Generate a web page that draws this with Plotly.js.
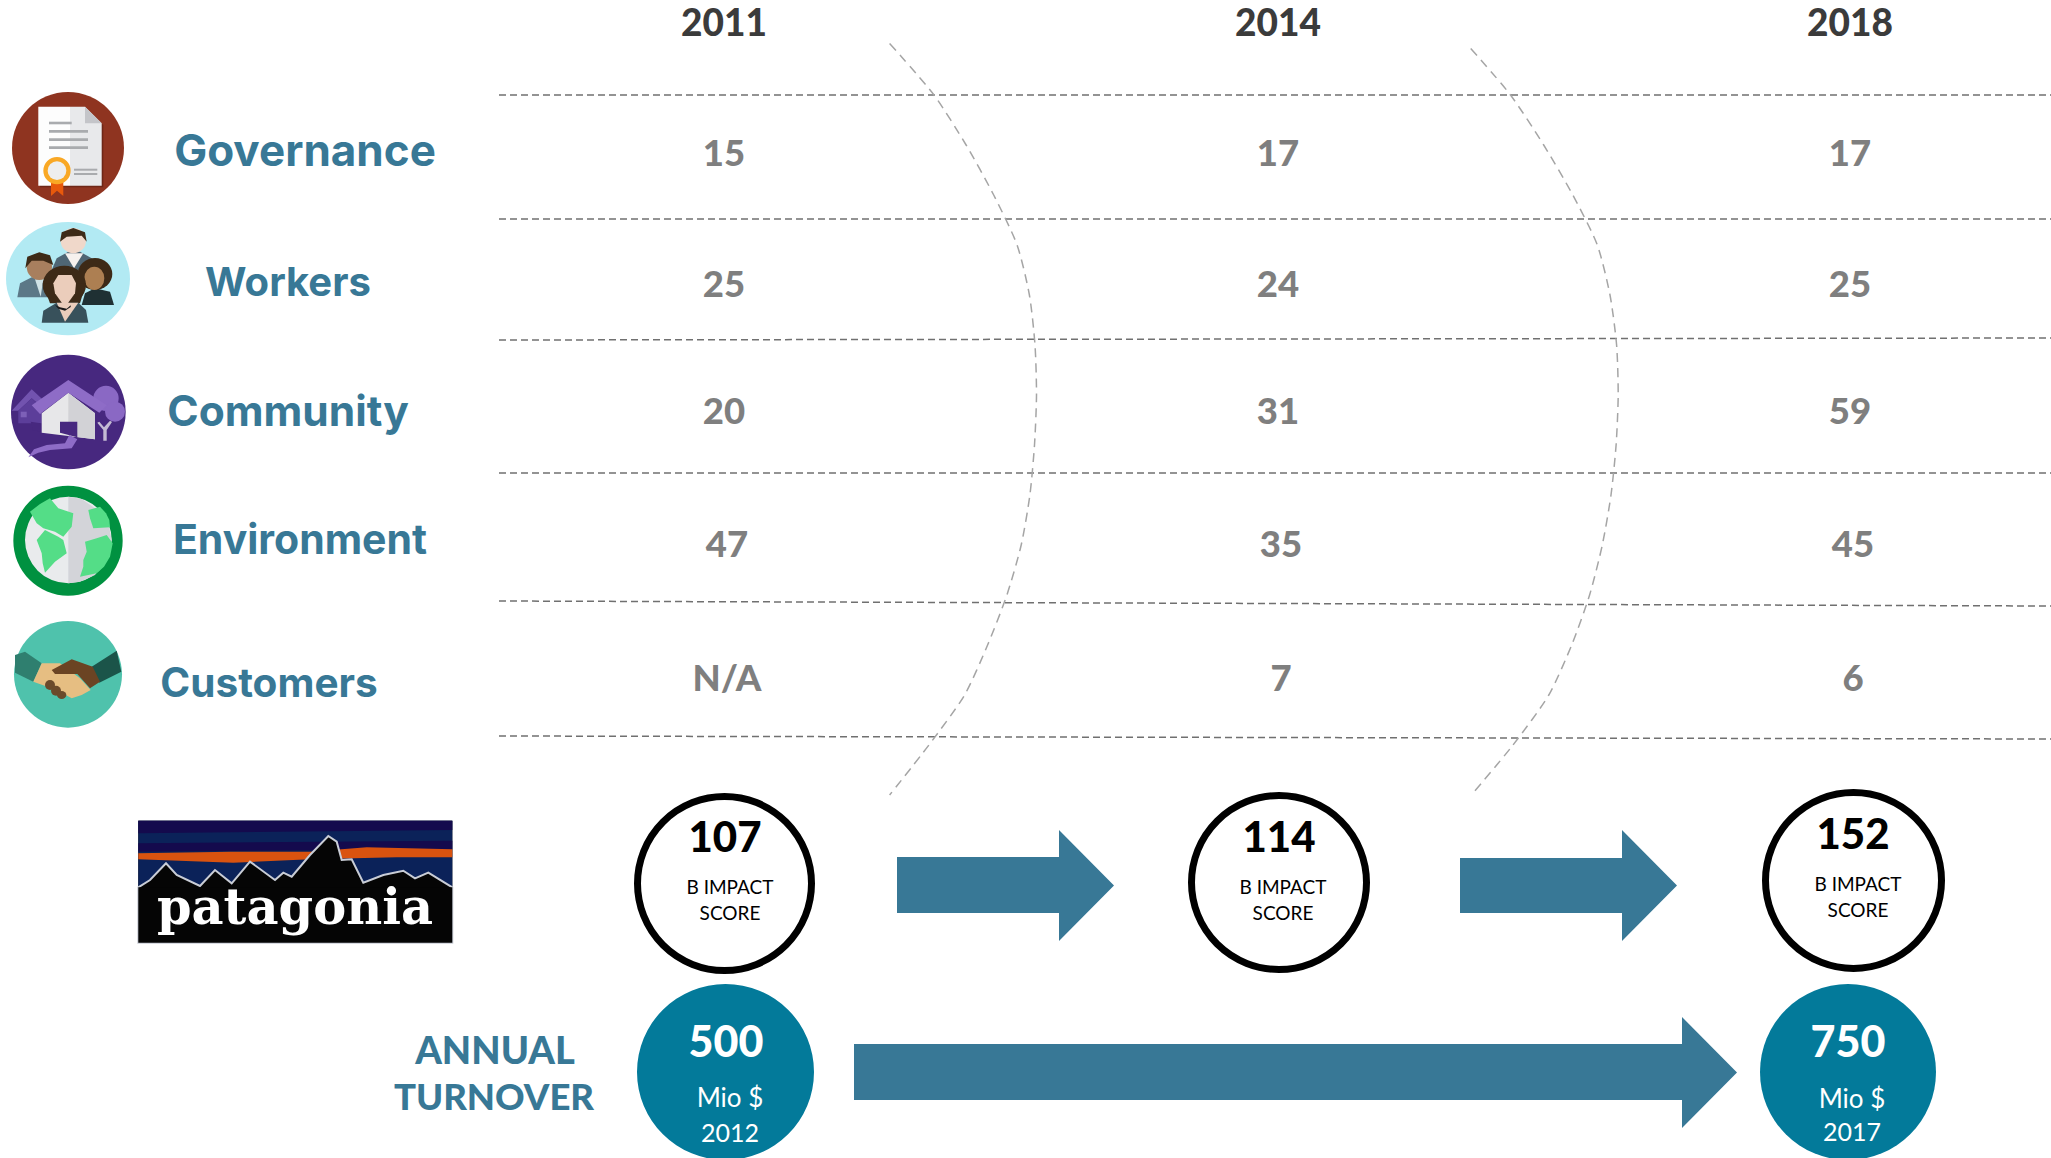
<!DOCTYPE html>
<html><head><meta charset="utf-8">
<script src="https://cdn.plot.ly/plotly-3.0.1.min.js"></script>
<style>html,body{margin:0;padding:0;background:#fff}#c{width:2051px;height:1158px}</style></head>
<body><div id="c"></div>
<script>
// ---------- data ----------
const years = ['2011','2014','2018'];
const categories = ['Governance','Workers','Community','Environment','Customers'];
const scores2011 = ['15','25','20','47','N/A'];
const scores2014 = ['17','24','31','35','7'];
const scores2018 = ['17','25','59','45','6'];
const impactScores = ['107','114','152'];
const impactLabel = ['B IMPACT','SCORE'];
const turnover = ['500','750'];
const turnoverUnit = ['Mio $','Mio $'];
const turnoverYears = ['2012','2017'];
const turnoverTitle = ['ANNUAL','TURNOVER'];

// ---------- layout positions ----------
const colX = [[724,727],[1278,1281],[1850,1853]];
const rowY = [157,288,415,548,682];
const labelX = [305,288,288,300,269];
const labelY = [155,286,415,544,687];
const labelSize = [44,40,42.5,41,40.5];
const ruleLeft = [95,219,340,473,601,736];
const ruleRight = [95,219,338,473,606,739];
const curveAX = [889.6,934,966.1,993.7,1017.1,1029.4,1035,1036.5,1034.5,1029.9,1021.2,1006.9,987.6,964.6,928.9,889.6];
const curveAY = [43.5,95,145,195,245,295,345,395,445,495,545,595,645,695,745,795];
const curveBX = [1470.7,1510.5,1543.7,1572.8,1597.3,1610,1616.6,1618.2,1616.1,1611,1602.3,1589.6,1571.7,1548.8,1513,1472.2];
const curveBY = [48.5,95,145,195,245,295,345,395,445,495,545,595,645,695,745,794];

const teal='#387896', grey='#7f7f7f';
const shapes=[];
function P(pts,fill,line,lw){
  shapes.push({type:'path',xref:'x',yref:'y',layer:'below',
    path:'M'+pts.map(p=>p[0].toFixed(1)+','+p[1].toFixed(1)).join('L')+'Z',
    fillcolor:fill,line:{width:line?(lw||1):0,color:line||fill}});
}
function E(cx,cy,rx,ry,fill,line,lw){
  shapes.push({type:'circle',xref:'x',yref:'y',layer:'below',x0:cx-rx,x1:cx+rx,y0:cy-ry,y1:cy+ry,
    fillcolor:fill,line:{width:line?(lw||1):0,color:line||fill}});
}
function frame(ox,oy){
  const s=1/3, t=a=>a.map(p=>[ox+p[0]*s,oy+p[1]*s]);
  return {P:(a,f,l,w)=>P(t(a),f,l,w),E:(x,y,rx,ry,f,l,w)=>E(ox+x*s,oy+y*s,rx*s,ry*s,f,l,w)};
}

// Governance icon
(function(){const z=frame(0,70);
 z.E(204,234,168,168,'#8F3420');
 z.P([[120,115],[255,115],[310,165],[310,352],[120,352]],'#6E2717');
 z.P([[115,110],[210,110],[210,347],[115,347]],'#FDFDFD');
 z.P([[210,110],[255,110],[305,160],[305,347],[210,347]],'#E8E9EB');
 z.P([[255,110],[305,160],[255,160]],'#C4C5C9');
 [[147,215,159],[147,264,184],[147,264,209],[147,264,233]].forEach(l=>z.P([[l[0],l[2]-4],[l[1],l[2]-4],[l[1],l[2]+4],[l[0],l[2]+4]],'#A9ABAE'));
 [[222,292,299],[222,292,312]].forEach(l=>z.P([[l[0],l[2]-3],[l[1],l[2]-3],[l[1],l[2]+3],[l[0],l[2]+3]],'#A9ABAE'));
 z.P([[153,335],[190,335],[190,378],[171,362],[153,378]],'#E8590C');
 z.E(171,302,41,41,'#F9A825');
 z.E(171,302,28,28,'#EEEEEE');
})();
// Workers icon
(function(){const z=frame(0,70);
 z.E(204,626,186,170,'#B2EAF3');
 z.P([[155,600],[170,565],[205,545],[240,545],[275,565],[285,600]],'#4F6674');
 z.P([[195,550],[250,550],[222,595]],'#F6F1EE');
 z.E(220,512,38,38,'#F0D8CA');
 z.P([[180,515],[185,487],[220,474],[255,487],[260,515],[245,497],[200,500]],'#3D2A17');
 z.P([[52,682],[60,640],[95,622],[120,630],[145,640],[150,682]],'#5C7887');
 z.P([[105,628],[130,628],[122,680]],'#CFE2E6');
 z.E(118,590,38,40,'#A87F5E');
 z.P([[76,595],[82,560],[118,547],[150,556],[160,585],[130,572],[95,572]],'#3D2A17');
 z.P([[245,705],[255,670],[285,655],[330,665],[342,705]],'#1F3033');
 z.E(285,612,52,48,'#3D2A17');
 z.E(283,625,30,35,'#AD7F52');
 z.E(193,645,65,58,'#3D2A17');
 z.P([[128,640],[150,700],[240,700],[258,640]],'#3D2A17');
 z.P([[125,758],[130,722],[170,698],[235,698],[258,720],[265,758]],'#38515B');
 z.P([[170,698],[195,755],[235,698]],'#EBCDBB');
 z.P([[160,640],[175,615],[215,615],[228,640],[225,670],[195,712],[165,670]],'#EBCDBB');
 z.P([[165,705],[180,712],[200,716],[212,706],[212,711],[195,722],[175,716]],'#1a1a1a');
})();
// Community icon
(function(){const z=frame(0,380);
 z.E(205,96,172,172,'#47287F');
 z.E(318,55,38,38,'#8A68C4'); z.E(345,95,30,30,'#8A68C4');
 z.P([[310,182],[310,150],[292,128],[298,125],[312,142],[330,122],[336,126],[320,150],[320,182]],'#C4BBD4');
 z.P([[35,92],[95,28],[135,65],[125,80],[95,55],[55,92]],'#7253AF');
 z.P([[55,92],[95,55],[125,85],[125,130],[55,130]],'#5C3E9A');
 z.P([[62,95],[80,95],[80,112],[62,112]],'#7D60B8');
 z.P([[125,100],[205,38],[285,100],[285,178],[125,158]],'#E7E7E9');
 z.P([[205,38],[285,100],[285,178],[205,168]],'#D2D2D6');
 z.P([[95,76],[205,0],[320,76],[298,98],[205,38],[120,102]],'#8E6CC7');
 z.P([[180,125],[232,125],[232,172],[180,158]],'#47287F');
 z.P([[85,232],[102,208],[140,195],[195,190],[208,165],[232,178],[215,205],[150,210],[115,218]],'#8E6CC7');
 z.P([[92,125],[122,130],[122,155],[98,150]],'#47287F');
})();
// Environment icon
(function(){const z=frame(0,380);
 z.E(204,482,164,165,'#009140');
 z.E(205,480,130,130,'#E9EBED');
 z.P([[205,350],[245,357],[285,385],[325,430],[335,480],[320,540],[285,585],[240,605],[205,610]],'#D3D4D9');
 z.P([[90,395],[120,372],[150,355],[175,385],[220,400],[215,440],[190,470],[165,455],[130,445],[110,430]],'#54DD87');
 z.P([[110,480],[135,450],[175,470],[190,480],[200,520],[165,545],[135,578],[128,550],[125,520]],'#54DD87');
 z.P([[265,390],[300,380],[318,400],[328,420],[330,442],[280,445],[270,415]],'#54DD87');
 z.P([[255,485],[290,475],[320,465],[338,490],[330,530],[312,560],[290,580],[240,590],[250,560],[250,540],[260,515]],'#54DD87');
})();
// Customers icon
(function(){const z=frame(0,380);
 z.E(204,883,162,160,'#4FC2AC');
 z.P([[45,825],[75,815],[125,850],[100,905],[45,878]],'#2F7F6F');
 z.P([[275,860],[350,812],[364,875],[298,908]],'#1B5449');
 z.P([[100,905],[125,850],[180,850],[240,895],[272,930],[245,945],[215,955],[170,930]],'#E6BE82');
 z.P([[155,870],[215,838],[278,860],[300,905],[270,925],[232,882],[165,882]],'#6B4423');
 z.E(150,915,15,15,'#6B4A2B'); z.E(168,932,15,15,'#6B4A2B'); z.E(185,945,14,12,'#6B4A2B');
})();
// Patagonia logo
(function(){const z=frame(120,800);
 z.P([[55,62],[997,62],[997,428],[55,428]],'#050505');
 z.P([[55,62],[997,62],[997,265],[55,265]],'#0B2259');
 z.P([[55,62],[997,62],[997,90],[55,100]],'#140A4D');
 z.P([[55,130],[997,122],[997,148],[55,155]],'#140A4D');
 z.P([[55,160],[330,155],[570,155],[740,142],[997,148],[997,172],[830,172],[570,178],[340,188],[55,178]],'#D9530F');
 z.P([[55,262],[90,240],[138,190],[170,225],[240,258],[285,210],[335,250],[390,185],[465,240],[490,218],[515,230],[570,165],[625,108],[650,125],[665,180],[695,178],[730,248],[790,225],[850,212],[885,235],[925,218],[997,262],[997,428],[55,428]],'#050505','#C9CDD6',2);
 z.P([[55,262],[997,262],[997,428],[55,428]],'#050505');
})();
// B Impact circles
[[724.5,883.5,90.5,90.5],[1279,882.5,91,90.5],[1853.5,880.5,91.5,91.5]].forEach(c=>E(c[0],c[1],c[2]-3.5,c[3]-3.5,'#fff','#000',7));
// Turnover circles
[[725.5,1072,88.5,88],[1848,1072,88,88]].forEach(c=>E(c[0],c[1],c[2],c[3],'#037A9A'));
// arrows
function arrow(x0,xb,xt,ys0,ys1,yh0,yh1){P([[x0,ys0],[xb,ys0],[xb,yh0],[xt,(yh0+yh1)/2],[xb,yh1],[xb,ys1],[x0,ys1]],teal);}
arrow(897,1059,1114,857,913,830,941);
arrow(1460,1622,1677,858,913,830,941);
arrow(854,1682,1737,1044,1100,1017,1128);

// ---------- traces ----------
const traces=[];
function txt(x,y,text,size,color,family,weight){
  traces.push({type:'scatter',mode:'text',x:x,y:y,text:text,textposition:'middle center',hoverinfo:'skip',
    textfont:{size:size,color:color,family:family,weight:weight||400},showlegend:false,cliponaxis:false});
}
ruleLeft.forEach((y,i)=>traces.push({type:'scatter',mode:'lines',x:[499,2051],y:[y,ruleRight[i]],hoverinfo:'skip',showlegend:false,
  line:{color:'#707070',width:1.5,dash:'7px,4px'}}));
[[curveAX,curveAY],[curveBX,curveBY]].forEach(c=>traces.push({type:'scatter',mode:'lines',x:c[0],y:c[1],hoverinfo:'skip',showlegend:false,
  line:{color:'#a5a5a5',width:1.5,dash:'9px,6px',shape:'spline',smoothing:0.7}}));

const L='Lato, sans-serif';
txt(colX.map(c=>c[0]),[27,27,27],years,37,'#3b3b3b',L,900);
[scores2011,scores2014,scores2018].forEach((s,c)=>{
  txt(rowY.map((_,r)=>colX[c][r<3?0:1]),rowY,s,36.5,grey,L,900);
});
txt(labelX,labelY,categories,labelSize,teal,'Inter, sans-serif',700);
txt([495,494],[1054,1101],turnoverTitle,[38,36.5],teal,L,900);
txt([725,1279,1853],[841,841,838],impactScores,42,'#000',L,900);
txt([730,1283,1858],[889,889,886],[impactLabel[0],impactLabel[0],impactLabel[0]],19,'#000',L,400);
txt([730,1283,1858],[915,915,912],[impactLabel[1],impactLabel[1],impactLabel[1]],19,'#000',L,400);
txt([726,1848],[1046,1046],turnover,43,'#fff',L,900);
txt([730,1852],[1100,1101],turnoverUnit,26,'#fff',L,400);
txt([730,1852],[1136,1135],turnoverYears,25,'#fff',L,400);
txt([295],[912],['patagonia'],49.5,'#fff','"DejaVu Serif", serif',700);

Plotly.newPlot('c',traces,{
  width:2051,height:1158,margin:{l:0,r:0,t:0,b:0},
  paper_bgcolor:'#fff',plot_bgcolor:'#fff',showlegend:false,
  xaxis:{range:[0,2051],visible:false,fixedrange:true},
  yaxis:{range:[1158,0],visible:false,fixedrange:true},
  shapes:shapes
},{displayModeBar:false,staticPlot:true});
</script></body></html>
